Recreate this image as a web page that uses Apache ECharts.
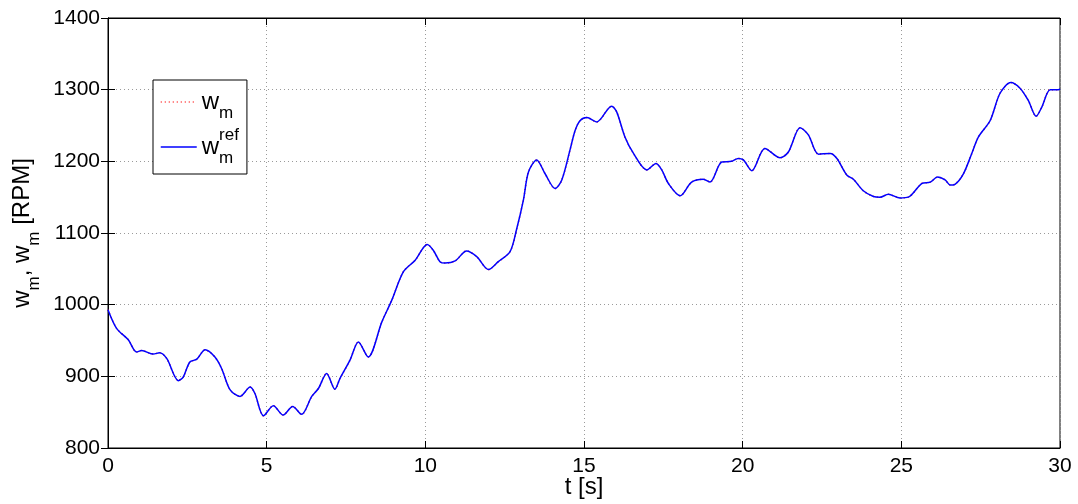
<!DOCTYPE html>
<html>
<head>
<meta charset="utf-8">
<script src="https://cdn.jsdelivr.net/npm/echarts@6/dist/echarts.min.js"></script>
<style>
  html, body { margin: 0; padding: 0; background: #fff; }
  #chart { width: 1078px; height: 504px; }
</style>
</head>
<body>
<div id="chart"></div>
<script>
// time axis [s]
const tSec = [
  0, 0.27, 0.64, 0.9, 1.06, 1.43, 1.62, 1.85, 2.22, 2.37,
  2.58, 2.8, 3.06, 3.37, 3.58, 3.85, 4.16, 4.48, 4.63, 4.9,
  5.21, 5.52, 5.82, 6.1, 6.42, 6.63, 6.89, 7.15, 7.31, 7.63,
  7.89, 8.2, 8.63, 8.94, 9.31, 9.68, 10.06, 10.25, 10.46, 10.62,
  10.94, 11.3, 11.62, 11.99, 12.3, 12.67, 12.88, 13.09, 13.25, 13.51,
  13.77, 14.09, 14.3, 14.56, 14.72, 14.88, 15.09, 15.4, 15.87, 16.03,
  16.29, 16.56, 16.98, 17.27, 17.45, 17.66, 18.03, 18.39, 18.76, 18.97,
  19.34, 19.65, 19.86, 20.02, 20.29, 20.7, 21.18, 21.44, 21.81, 22.07,
  22.39, 22.76, 22.97, 23.28, 23.49, 23.8, 24.12, 24.33, 24.59, 24.96,
  25.22, 25.64, 25.91, 26.14, 26.38, 26.54, 26.69, 26.96, 27.22, 27.43,
  27.8, 28.11, 28.45, 28.74, 29.0, 29.25, 29.43, 29.69, 29.95, 30
];
// reference speed [RPM]
const wRef = [
  993, 967, 951, 934, 936, 931, 933, 925, 894, 899,
  920, 924, 937, 927, 911, 881, 872, 885, 876, 845,
  859, 846, 858, 847, 872, 883, 904, 882, 897, 923,
  948, 927, 976, 1006, 1046, 1062, 1084, 1076, 1060, 1058,
  1061, 1075, 1067, 1049, 1060, 1074, 1106, 1146, 1185, 1202,
  1183, 1162, 1174, 1216, 1243, 1257, 1261, 1255, 1277, 1269,
  1234, 1211, 1188, 1197, 1188, 1169, 1152, 1171, 1175, 1171,
  1199, 1200, 1204, 1202, 1187, 1218, 1205, 1213, 1247, 1237,
  1210, 1211, 1204, 1181, 1175, 1159, 1151, 1150, 1154, 1149,
  1150, 1169, 1171, 1178, 1174, 1167, 1168, 1183, 1211, 1234,
  1257, 1295, 1310, 1302, 1285, 1263, 1276, 1300, 1300, 1301
];
// measured speed tracks the reference (red dots hidden under the blue line)
const wMeas = wRef;

const xTicks = { min: 0, max: 30, interval: 5 };
const yTicks = { min: 800, max: 1400, interval: 100 };

const FONT = "Liberation Sans, Arial, sans-serif";
const chart = echarts.init(document.getElementById("chart"));

const gridLine = { show: true, lineStyle: { color: "#9a9a9a", type: [1, 3], width: 1 } };
const tick = { show: true, inside: true, length: 7, lineStyle: { color: "#000" } };
const axisLine = { show: true, lineStyle: { color: "#000", width: 1 } };
const tickLabel = { fontSize: 21, fontFamily: FONT, color: "#000" };

// w with subscript m / superscript ref
const txt = (size, lh, va, extra) => Object.assign(
  { fontSize: size, fontFamily: FONT, color: "#000", lineHeight: lh, verticalAlign: va }, extra || {});
const axisRich = {
  n: txt(24, 40, "middle"),
  s: txt(17, 20, "bottom")
};
const legendRich = {
  n: txt(24, 40, "middle"),
  s: txt(17, 14, "bottom"),
  z: txt(17, 14, "bottom", { width: 0.01, align: "left" }),
  p: txt(17, 21, "top")
};

chart.setOption({
  animation: false,
  backgroundColor: "#fff",
  grid: {
    left: 108, right: 18, top: 18, bottom: 56,
    outerBoundsMode: "none",
    show: true, borderColor: "#000", borderWidth: 1
  },
  legend: {
    left: 153,
    top: 80,
    orient: "vertical",
    backgroundColor: "#fff",
    borderColor: "#000",
    borderWidth: 1,
    padding: [10, 8, 7, 7],
    itemGap: 5,
    itemWidth: 36,
    itemHeight: 14,
    data: [
      { name: "wm", itemStyle: { opacity: 0 }, lineStyle: { color: "#ff3030", type: [1, 3], width: 1.5 } },
      { name: "wref", itemStyle: { opacity: 0 }, lineStyle: { color: "#0000ff", type: "solid", width: 1.5 } }
    ],
    formatter: (name) => name === "wm" ? "{n|w}{s|m}" : "{n|w}{z|m}{p|ref}",
    textStyle: { rich: legendRich }
  },
  xAxis: [
    {
      type: "value", ...xTicks,
      name: "t [s]", nameLocation: "middle", nameGap: 27, nameMoveOverlap: false,
      nameTextStyle: { fontSize: 24, fontFamily: FONT, color: "#000" },
      axisLine, axisTick: tick, splitLine: gridLine,
      axisLabel: { ...tickLabel, margin: 8 }
    },
    {
      type: "value", ...xTicks, position: "top",
      axisLine, axisTick: tick, splitLine: { show: false }, axisLabel: { show: false }
    }
  ],
  yAxis: [
    {
      type: "value", ...yTicks,
      name: "{n|w}{s|m}{n|, w}{s|m}{n| [RPM]}", nameLocation: "middle", nameGap: 62,
      nameTextStyle: { rich: axisRich },
      axisLine, axisTick: tick, splitLine: gridLine,
      axisLabel: { ...tickLabel, margin: 8, formatter: (v) => String(v) }
    },
    {
      type: "value", ...yTicks, position: "right",
      axisLine, axisTick: tick, splitLine: { show: false }, axisLabel: { show: false }
    }
  ],
  series: [
    {
      name: "wm", type: "line", symbol: "none", smooth: 0.3,
      lineStyle: { color: "#ff0000", width: 1.5, type: [1, 3] },
      itemStyle: { color: "#ff0000" },
      data: tSec.map((t, i) => [t, wMeas[i]])
    },
    {
      name: "wref", type: "line", symbol: "none", smooth: 0.3,
      lineStyle: { color: "#0000ff", width: 1.5 },
      itemStyle: { color: "#0000ff" },
      data: tSec.map((t, i) => [t, wRef[i]])
    }
  ]
});
</script>
</body>
</html>
